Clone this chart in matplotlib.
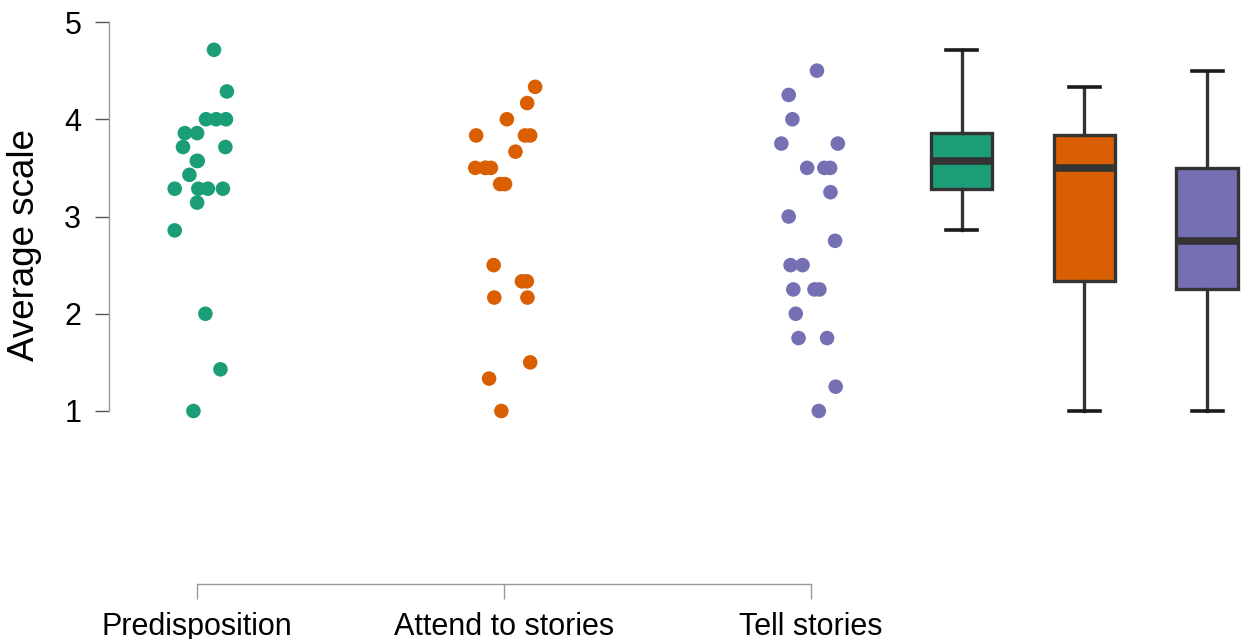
import numpy as np
import matplotlib
matplotlib.use("Agg")
import matplotlib.pyplot as plt

plt.rcParams["font.family"] = ["Liberation Sans", "DejaVu Sans"]

# Scale averages per respondent, three subscales (n = 21 each)
categories = ["Predisposition", "Attend to stories", "Tell stories"]
colors = ["#1B9E77", "#D95F02", "#7570B3"]

# predisposition is a 7-item scale, attend a 6-item scale, tell a 4-item scale
predisposition = np.array([33, 30, 28, 28, 28, 27, 27, 26, 26, 25, 25,
                           24, 23, 23, 23, 23, 22, 20, 14, 10, 7]) / 7
attend = np.array([26, 25, 24, 23, 23, 23, 22, 21, 21, 21, 21,
                   20, 20, 15, 14, 14, 13, 13, 9, 8, 6]) / 6
tell = np.array([18, 17, 16, 15, 15, 14, 14, 14, 13, 12, 11,
                 10, 10, 9, 9, 9, 8, 7, 7, 5, 4]) / 4

# horizontal jitter used for the strip chart (category units)
jit_pred = [0.055, 0.097, 0.029, 0.062, 0.094, -0.040, 0.000, -0.046, 0.092, -0.001, 0.002,
            -0.025, -0.073, 0.004, 0.035, 0.084, 0.000, -0.073, 0.027, 0.076, -0.012]
jit_attend = [0.101, 0.075, 0.009, -0.091, 0.068, 0.085, 0.037, -0.094, -0.062, -0.060, -0.043,
              -0.013, 0.003, -0.034, 0.058, 0.074, -0.032, 0.076, 0.085, -0.049, -0.009]
jit_tell = [0.019, -0.073, -0.061, -0.097, 0.087, -0.013, 0.043, 0.062, 0.063, -0.073, 0.078,
            -0.067, -0.028, -0.058, 0.011, 0.027, -0.050, -0.041, 0.052, 0.080, 0.025]

groups = [predisposition, attend, tell]
jitters = [jit_pred, jit_attend, jit_tell]
box_pos = [3.49, 3.89, 4.29]

fig = plt.figure(figsize=(12.44, 6.39), dpi=100)
ax = fig.add_axes([109 / 1244, 1 - 584 / 639, 1 - 109 / 1244, (584 - 10) / 639])

for i, (vals, jit, col) in enumerate(zip(groups, jitters, colors)):
    x = (i + 1) + np.array(jit)
    ax.scatter(x, vals, s=110, color=col, edgecolors="none", zorder=3)

edge = "#333333"
# tiny slack on the 1.5*IQR fence so values sitting exactly on it stay inside
bp = ax.boxplot(groups, positions=box_pos, widths=0.2, whis=1.5 + 1e-9, showfliers=False,
                patch_artist=True, manage_ticks=False,
                boxprops=dict(edgecolor=edge, linewidth=2.4),
                whiskerprops=dict(color=edge, linewidth=2.4),
                capprops=dict(color="#1a1a1a", linewidth=2.6),
                medianprops=dict(color=edge, linewidth=5.5, solid_capstyle="butt"))
for patch, col in zip(bp["boxes"], colors):
    patch.set_facecolor(col)

ax.set_xlim(0.713, 4.41)
ax.set_ylim(1 - 173 / 97.25, 5 + 12 / 97.25)

for side in ["top", "right"]:
    ax.spines[side].set_visible(False)
ax.spines["left"].set_bounds(1, 5)
ax.spines["bottom"].set_bounds(1, 3)
for side in ["left", "bottom"]:
    ax.spines[side].set_color("#9a9a9a")
    ax.spines[side].set_linewidth(1.0)

ax.set_yticks([1, 2, 3, 4, 5])
ax.set_xticks([1, 2, 3])
ax.set_xticklabels(categories)
ax.tick_params(axis="y", length=10, width=1, color="#555555", pad=10, labelsize=22)
ax.tick_params(axis="x", length=11, width=1, color="#9a9a9a", pad=9, labelsize=22)

fig.text(24 / 1244, 1 - 245 / 639, "Average scale", rotation=90,
         ha="center", va="center", fontsize=26.5)

fig.savefig("out.png", dpi=100)
